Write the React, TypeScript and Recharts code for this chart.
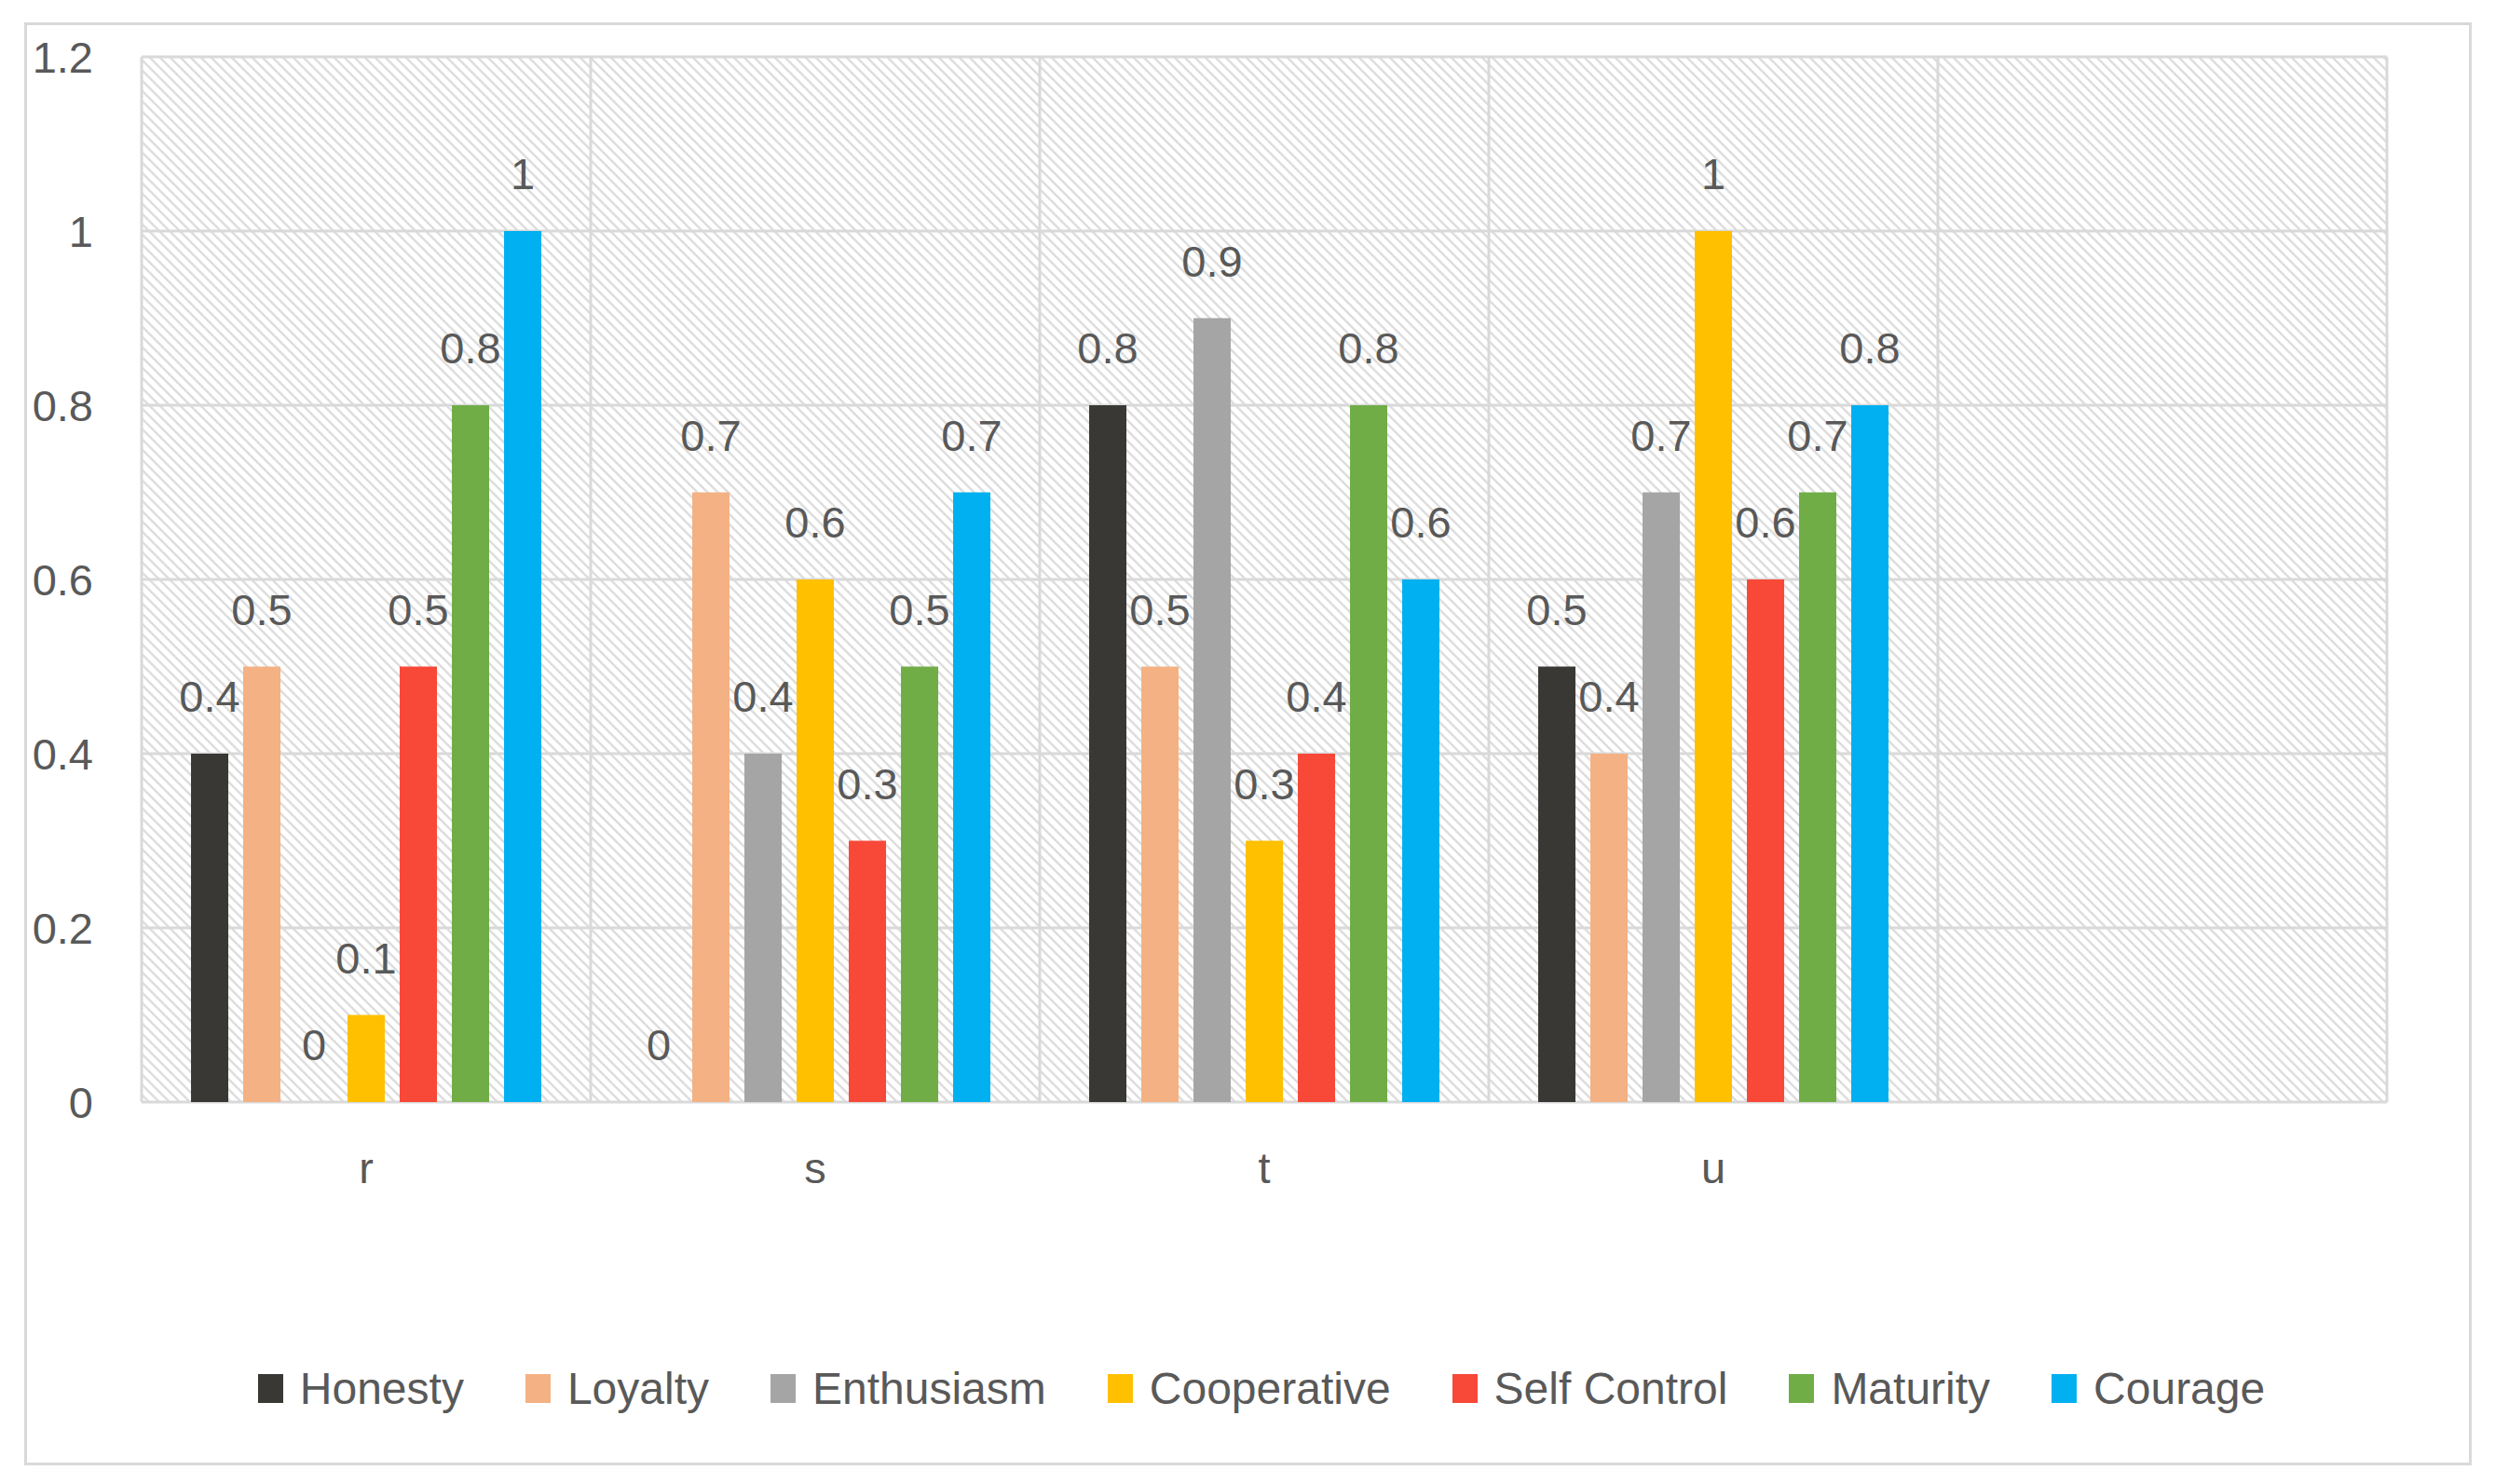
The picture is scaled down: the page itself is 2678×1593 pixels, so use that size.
import React from 'react';
import {
  BarChart,
  Bar,
  XAxis,
  YAxis,
  CartesianGrid,
  Legend,
} from 'recharts';

// categories along the x axis (the fifth band is empty in the source chart)
const categories = ['r', 's', 't', 'u', ''];

const seriesNames = ['Honesty', 'Loyalty', 'Enthusiasm', 'Cooperative', 'Self Control', 'Maturity', 'Courage'];
const seriesColors = ['#3a3835', '#f4b183', '#a5a5a5', '#ffc000', '#f84838', '#70ad47', '#00b0f0'];

const honesty = [0.4, 0, 0.8, 0.5, null];
const loyalty = [0.5, 0.7, 0.5, 0.4, null];
const enthusiasm = [0, 0.4, 0.9, 0.7, null];
const cooperative = [0.1, 0.6, 0.3, 1, null];
const selfControl = [0.5, 0.3, 0.4, 0.6, null];
const maturity = [0.8, 0.5, 0.8, 0.7, null];
const courage = [1, 0.7, 0.6, 0.8, null];

const yTicks = [0, 0.2, 0.4, 0.6, 0.8, 1, 1.2];

const seriesValues = [honesty, loyalty, enthusiasm, cooperative, selfControl, maturity, courage];

const data = categories.map((category, i) => {
  const row: Record<string, string | number | null> = { category };
  seriesNames.forEach((name, s) => {
    row[name] = seriesValues[s][i];
  });
  return row;
});

const FONT = '"Liberation Sans", Arial, sans-serif';
const TEXT = '#595959';
const GRID = '#d9d9d9';
const LABEL_GAP = 45;

// bar + its value label in one group, so that the next series' bars paint over
// overlapping labels (as in the source), and zero values still get their "0"
function LabelledBar(props: any) {
  const { x, y, width, height, fill, dataKey, payload } = props;
  const value = payload ? payload[dataKey] : props.value;
  if (value == null || x == null || y == null) return null;
  const top = height < 0 ? y + height : y;
  const h = Math.abs(height || 0);
  return (
    <g>
      {h >= 1 && <rect x={x} y={top} width={width} height={h} fill={fill} />}
      <text
        x={x + width / 2}
        y={top - LABEL_GAP}
        textAnchor="middle"
        fill={TEXT}
        fontSize={47}
        fontFamily={FONT}
      >
        {String(value)}
      </text>
    </g>
  );
}

function ChartLegend() {
  return (
    <div
      style={{
        display: 'flex',
        justifyContent: 'center',
        alignItems: 'center',
        height: 60,
        paddingLeft: 30,
        fontFamily: FONT,
        fontSize: 48,
        color: TEXT,
      }}
    >
      {seriesNames.map((name, i) => (
        <div
          key={name}
          style={{ display: 'flex', alignItems: 'center', marginRight: i < seriesNames.length - 1 ? 66 : 0 }}
        >
          <span style={{ display: 'inline-block', width: 27, height: 31, background: seriesColors[i], marginRight: 18 }} />
          <span>{name}</span>
        </div>
      ))}
    </div>
  );
}

export default function App() {
  return (
    <div style={{ position: 'absolute', left: 0, top: 0, width: 2678, height: 1593, background: '#fff' }}>
      <div
        style={{
          position: 'absolute',
          left: 26,
          top: 24,
          width: 2627,
          height: 1549,
          border: `3px solid ${GRID}`,
          boxSizing: 'border-box',
        }}
      />
      <div style={{ position: 'absolute', left: 0, top: 0 }}>
        <BarChart
          width={2678}
          height={1593}
          data={data}
          margin={{ top: 61, right: 116, left: 0, bottom: 73 }}
          barCategoryGap="11%"
          barGap={16}
        >
          <defs>
            <pattern id="hatch" patternUnits="userSpaceOnUse" width="11" height="11">
              <rect width="11" height="11" fill="#ffffff" />
              <path d="M-3,-3 L14,14 M-3,8 L3,14 M8,-3 L14,3" stroke="#dedede" strokeWidth={2.5} />
            </pattern>
          </defs>
          <CartesianGrid
            stroke={GRID}
            strokeWidth={3}
            fill="url(#hatch)"
            fillOpacity={1}
            verticalCoordinatesGenerator={({ offset }: any) =>
              [...categories, 'end'].map((_, i) => offset.left + (i * offset.width) / categories.length)
            }
          />
          <XAxis
            dataKey="category"
            axisLine={false}
            tickLine={false}
            tickSize={0}
            tickMargin={54}
            height={277}
            interval={0}
            tick={{ fill: TEXT, fontSize: 47, fontFamily: FONT }}
          />
          <YAxis
            domain={[0, 1.2]}
            ticks={yTicks}
            axisLine={false}
            tickLine={false}
            tickSize={0}
            tickMargin={52}
            width={152}
            tick={{ fill: TEXT, fontSize: 47, fontFamily: FONT }}
          />
          <Legend
            verticalAlign="bottom"
            content={<ChartLegend />}
            wrapperStyle={{ left: 0, width: 2678 }}
          />
          {seriesNames.map((name, i) => (
            <Bar
              key={name}
              dataKey={name}
              fill={seriesColors[i]}
              minPointSize={0.01}
              shape={<LabelledBar />}
              isAnimationActive={false}
            />
          ))}
        </BarChart>
      </div>
    </div>
  );
}
